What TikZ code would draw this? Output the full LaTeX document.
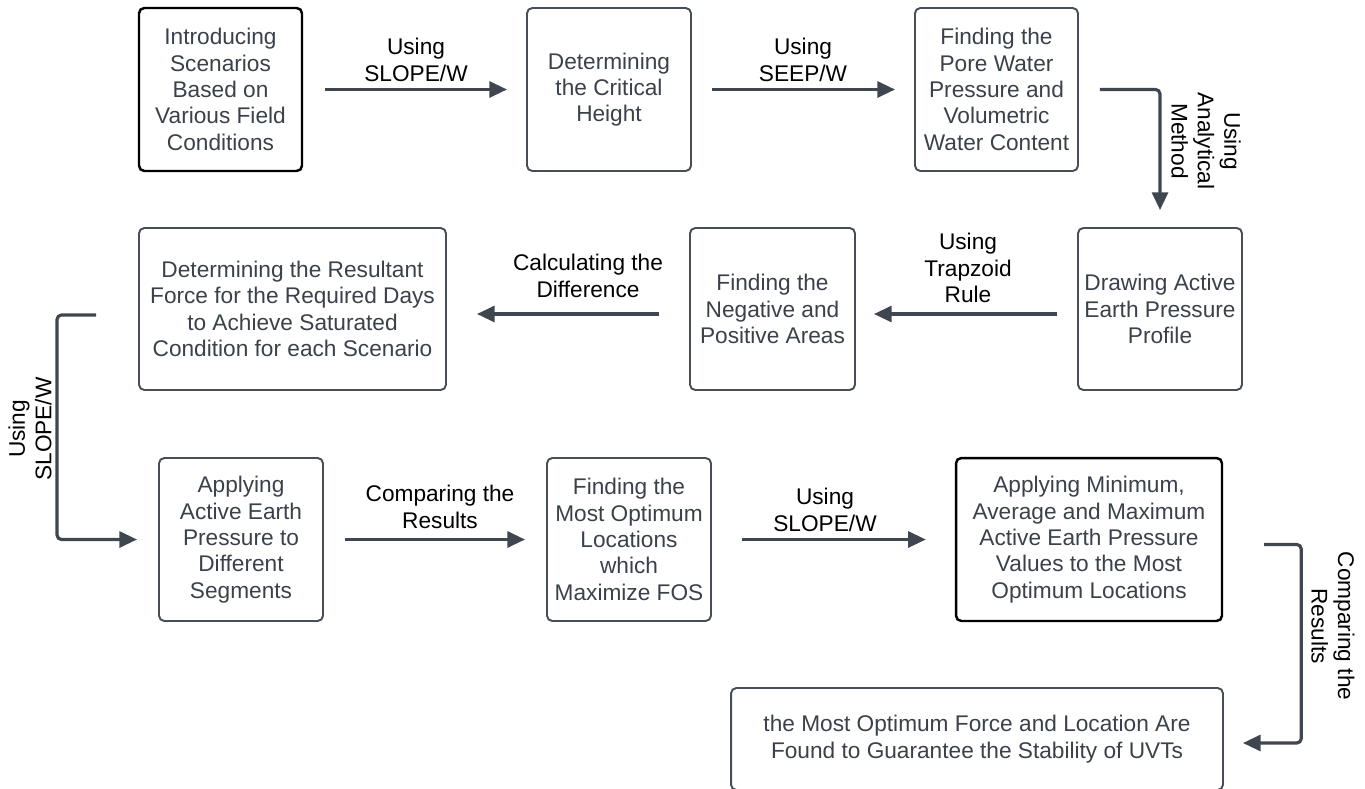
\documentclass[tikz,border=0pt]{standalone}
\usepackage{fontspec}
\setmainfont{Liberation Sans}
\usetikzlibrary{arrows.meta,calc}

\begin{document}
\begin{tikzpicture}[x=0.02cm,y=-0.02cm,
  box/.style={draw=boxline,line width=1.1pt,rounded corners=3pt,
    text=boxtext,align=center,inner sep=0pt,
    font=\fontsize{12.9}{15}\selectfont},
  keybox/.style={box,draw=black,line width=1.4pt},
  flow/.style={draw=arrowc,line width=1.8pt,rounded corners=2.5pt,
    -{Triangle[length=10pt,width=9pt]}},
  lbl/.style={align=center,inner sep=0pt,
    font=\fontsize{12.9}{15}\selectfont}]
 \definecolor{boxline}{RGB}{72,78,88}
 \definecolor{boxtext}{RGB}{58,65,74}
 \definecolor{arrowc}{RGB}{63,70,80}
 \useasboundingbox (0,0) rectangle (1365,788);
 % first row
 \node[keybox,minimum width=3.26cm,minimum height=3.26cm] (intro) at (220.5,89.5)
   {Introducing\\Scenarios\\Based on\\Various Field\\Conditions};
 \node[box,minimum width=3.28cm,minimum height=3.26cm] (crit) at (609,89.5)
   {Determining\\the Critical\\Height};
 \node[box,minimum width=3.26cm,minimum height=3.26cm] (pore) at (996.5,89.5)
   {Finding the\\Pore Water\\Pressure and\\Volumetric\\Water Content};
 % second row
 \node[box,minimum width=3.28cm,minimum height=3.24cm] (profile) at (1160,309)
   {Drawing Active\\Earth Pressure\\Profile};
 \node[box,minimum width=3.3cm,minimum height=3.24cm] (areas) at (772.5,309)
   {Finding the\\Negative and\\Positive Areas};
 \node[box,minimum width=6.14cm,minimum height=3.24cm] (force) at (292.5,309)
   {Determining the Resultant\\Force for the Required Days\\to Achieve Saturated\\Condition for each Scenario};
 % third row
 \node[box,minimum width=3.28cm,minimum height=3.26cm] (segments) at (241,539.5)
   {Applying\\Active Earth\\Pressure to\\Different\\Segments};
 \node[box,minimum width=3.28cm,minimum height=3.26cm] (optimum) at (629,539.5)
   {Finding the\\Most Optimum\\Locations\\which\\Maximize FOS};
 \node[keybox,minimum width=5.32cm,minimum height=3.26cm] (values) at (1089,539.5)
   {Applying Minimum,\\Average and Maximum\\Active Earth Pressure\\Values to the Most\\Optimum Locations};
 \node[box,minimum width=9.84cm,minimum height=2.04cm] (final) at (977,739)
   {the Most Optimum Force and Location Are\\Found to Guarantee the Stability of UVTs};

 % connectors
 \draw[flow] ($(intro.east)+(22,0)$) -- ($(crit.west)+(-19,0)$);
 \draw[flow] ($(crit.east)+(20,0)$) -- ($(pore.west)+(-19,0)$);
 \draw[flow] ($(pore.east)+(21,0)$) -| ($(profile.north)+(0,-17)$);
 \draw[flow] ($(profile.west)+(-20,5)$) -- ($(areas.east)+(18,5)$);
 \draw[flow] ($(areas.west)+(-30,5)$) -- ($(force.east)+(30,5)$);
 \draw[flow] ($(force.west)+(-42,6)$) -- ++(-39,0) |- ($(segments.west)+(-21,0)$);
 \draw[flow] ($(segments.east)+(21,0)$) -- ($(optimum.west)+(-21,0)$);
 \draw[flow] ($(optimum.east)+(30,0)$) -- ($(values.west)+(-29,0)$);
 \draw[flow] ($(values.east)+(41,5)$) -- ++(37,0) |- ($(final.east)+(19,4)$);

 % labels
 \node[lbl] (slope1) at (416,60) {Using\\SLOPE/W};
 \node[lbl] (seep) at (803,60) {Using\\SEEP/W};
 \node[lbl,rotate=-90] (analytic) at (1206,141) {Using\\Analytical\\Method};
 \node[lbl] (trap) at (968,268) {Using\\Trapzoid\\Rule};
 \node[lbl] (diff) at (588,276) {Calculating the\\Difference};
 \node[lbl,rotate=90] (slope2) at (30,429) {Using\\SLOPE/W};
 \node[lbl] (compare1) at (440,507) {Comparing the\\Results};
 \node[lbl] (slope3) at (825,510) {Using\\SLOPE/W};
 \node[lbl,rotate=-90] (compare2) at (1333,626) {Comparing the\\Results};
\end{tikzpicture}
\end{document}
